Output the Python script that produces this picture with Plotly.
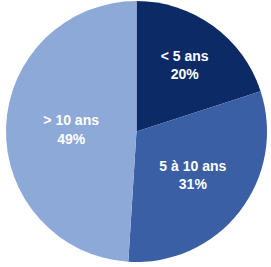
import plotly.graph_objects as go

labels = ["< 5 ans", "5 à 10 ans", "> 10 ans"]
values = [20, 31, 49]
colors = ["#0c2a66", "#3a5fa5", "#8da9d8"]

fig = go.Figure(go.Pie(
    labels=labels,
    values=values,
    sort=False,
    direction="clockwise",
    rotation=0,
    marker=dict(colors=colors, line=dict(width=0)),
    texttemplate="<b>%{label}<br>%{percent:.0%}</b>",
    textposition="inside",
    insidetextorientation="horizontal",
    textfont=dict(family="Liberation Sans, Arial, sans-serif", size=14, color="white"),
    hoverinfo="skip",
    domain=dict(x=[5/271, 268/271], y=[1 - 262/267, 1 - 1/267]),
))
fig.update_layout(
    width=271, height=267,
    margin=dict(l=0, r=0, t=0, b=0),
    showlegend=False,
    paper_bgcolor="white",
    plot_bgcolor="white",
)
fig.write_html(
    "out.html",
    config={"displayModeBar": False},
    post_script="document.body.style.margin='0';document.body.style.padding='0';",
)
